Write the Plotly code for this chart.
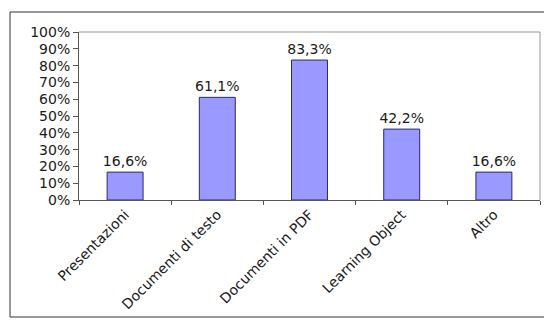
import plotly.graph_objects as go

categories = ["Presentazioni", "Documenti di testo", "Documenti in PDF", "Learning Object", "Altro"]
values = [16.6, 61.1, 83.3, 42.2, 16.6]
labels = ["16,6%", "61,1%", "83,3%", "42,2%", "16,6%"]
y_ticks = list(range(0, 101, 10))
y_tick_labels = [f"{v}%" for v in y_ticks]

W, H = 544, 320
L, R, T, B = 79, 4, 32, 120
pw, ph = W - L - R, H - T - B

def px_x(x):
    return (x - L) / pw

def px_y(y):
    return (H - B - y) / ph

fam = "DejaVu Sans, Liberation Sans, Arial"
font = dict(family=fam, size=14, color="#1a1a1a")
xfont = dict(family=fam, size=14, color="#1a1a1a")
lfont = dict(family=fam, size=14, color="#1a1a1a")

fig = go.Figure(go.Bar(
    x=categories, y=values, text=labels, textposition="outside",
    textfont=lfont, cliponaxis=False, constraintext="none",
    marker=dict(color="#9999FF", line=dict(color="#2a2a6a", width=1)),
    width=0.39,
))

fig.update_layout(
    width=W, height=H,
    margin=dict(l=L, r=R, t=T, b=B),
    paper_bgcolor="white", plot_bgcolor="white",
    font=font, showlegend=False,
    xaxis=dict(
        showgrid=False, showline=True, linecolor="#555555", linewidth=1,
        ticks="outside", ticklen=4, tickcolor="#555555", tickson="boundaries",
        tickangle=-45, tickfont=xfont,
    ),
    yaxis=dict(
        range=[0, 100], tickvals=y_ticks, ticktext=y_tick_labels,
        showgrid=False, showline=True, linecolor="#555555", linewidth=1,
        ticks="outside", ticklen=5, tickcolor="#555555", tickfont=font,
        zeroline=False,
    ),
    shapes=[
        dict(type="line", xref="paper", yref="paper", x0=0, x1=1, y0=1, y1=1,
             line=dict(color="#999999", width=1)),
        dict(type="line", xref="paper", yref="paper", x0=1, x1=1, y0=0, y1=1,
             line=dict(color="#999999", width=1)),
        dict(type="rect", xref="paper", yref="paper",
             x0=px_x(10), x1=px_x(560), y0=px_y(317), y1=px_y(12),
             line=dict(color="#333333", width=1), layer="below"),
    ],
)

fig.write_html("out.html")
